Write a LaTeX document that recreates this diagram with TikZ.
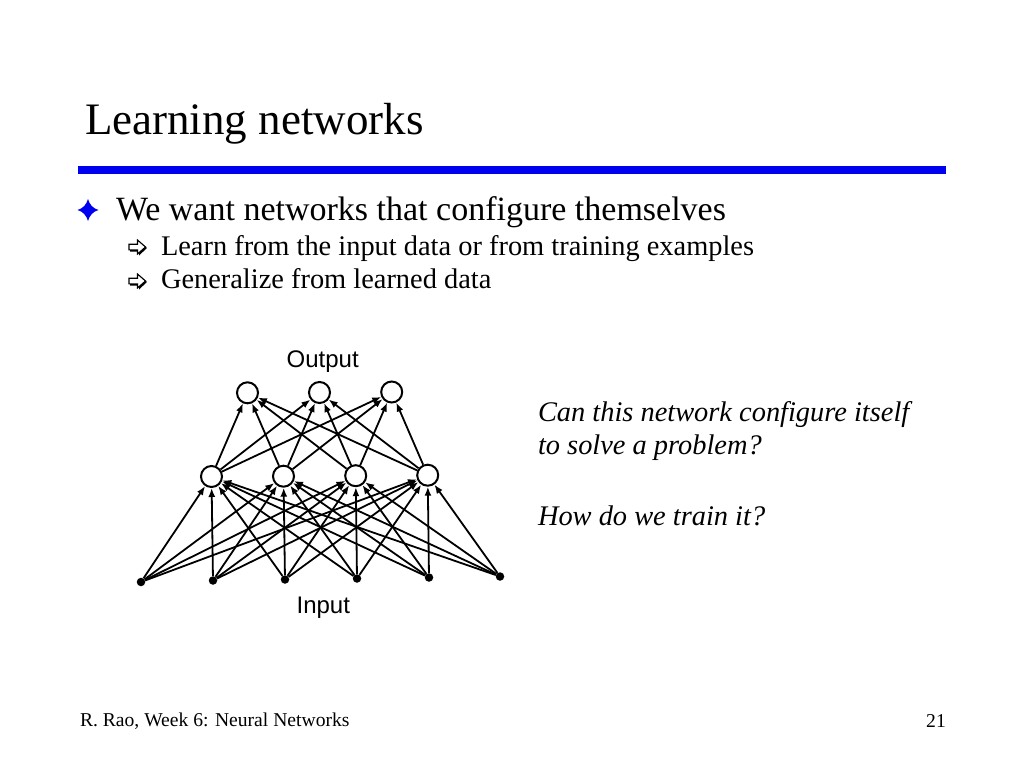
\documentclass[tikz,border=0pt]{standalone}
\usepackage{fontspec}
\setmainfont{Liberation Serif}
\newfontfamily\figsans{Liberation Sans}
\usetikzlibrary{arrows.meta}
\definecolor{slideblue}{RGB}{0,0,240}
\tikzset{
  txt/.style={anchor=base west, inner sep=0pt, outer sep=0pt},
  neuron/.style={circle, draw=black, line width=2pt, fill=white, minimum size=21pt, inner sep=0pt},
  inp/.style={circle, fill=black, minimum size=8.5pt, inner sep=0pt},
  conn/.style={line width=1.8pt, -{Latex[length=9pt,width=7pt]}},
  figlabel/.style={inner sep=0pt, font=\figsans\fontsize{24}{27}\selectfont}
}
\begin{document}
\begin{tikzpicture}[x=1pt,y=-1pt]
\useasboundingbox (0,0) rectangle (1024,768);
\fill[white] (0,0) rectangle (1024,768);
% title
\node[txt, font=\fontsize{45}{50}\selectfont] (title) at (85,134) {Learning networks};
\fill[slideblue] (78,166) rectangle (946,174);
% bullets
\fill[slideblue] (88,199) .. controls (89.5,204.5) and (93,208.5) .. (98.5,210) .. controls (93,211.5) and (89.5,215.5) .. (88,221)
  .. controls (86.5,215.5) and (83,211.5) .. (77.5,210) .. controls (83,208.5) and (86.5,204.5) .. (88,199) -- cycle;
\node[txt, font=\fontsize{34}{40}\selectfont] (b1) at (116,220) {We want networks that configure themselves};
\foreach \yy in {247,281}{
  \begin{scope}[shift={(137.5,\yy)}]
    \fill[black] (-7.5,-1.5) -- (1.5,-1.5) -- (1.5,-6) -- (9.5,1) -- (1.5,8.5) -- (1.5,4.5) -- (-7.5,4.5) -- cycle;
    \filldraw[fill=white, draw=black, line width=1.1pt] (-8.5,-2.8) -- (0,-2.8) -- (0,-7) -- (8,0) -- (0,7) -- (0,2.8) -- (-8.5,2.8) -- cycle;
  \end{scope}
}
\node[txt, font=\fontsize{28.4}{34}\selectfont] (s1) at (161,255.5) {Learn from the input data or from training examples};
\node[txt, font=\fontsize{28.4}{34}\selectfont] (s2) at (161,288.5) {Generalize from learned data};
% network
\node[neuron] (o1) at (247.5,392.8) {};
\node[neuron] (o2) at (319.5,392.5) {};
\node[neuron] (o3) at (391.7,392) {};
\node[neuron] (h1) at (211.5,476.5) {};
\node[neuron] (h2) at (283.5,476.2) {};
\node[neuron] (h3) at (355.7,475.7) {};
\node[neuron] (h4) at (427.7,475.2) {};
\node[inp] (i1) at (141,582) {};
\node[inp] (i2) at (213,580.5) {};
\node[inp] (i3) at (285,579.5) {};
\node[inp] (i4) at (357,578.5) {};
\node[inp] (i5) at (429,577.5) {};
\node[inp] (i6) at (500,576.5) {};
\foreach \i in {1,...,6}{
  \foreach \h in {1,...,4}{
    \draw[conn] (i\i) -- (h\h);
  }
}
\foreach \h in {1,...,4}{
  \foreach \o in {1,...,3}{
    \draw[conn] (h\h) -- (o\o);
  }
}
\node[figlabel] (outl) at (322.7,361.5) {Output};
\node[figlabel] (inl) at (323.3,608) {Input};
% questions
\node[txt, font=\itshape\fontsize{28.4}{34}\selectfont] (q1) at (538,421.7) {Can this network configure itself};
\node[txt, font=\itshape\fontsize{28.4}{34}\selectfont] (q2) at (538,454.5) {to solve a problem?};
\node[txt, font=\itshape\fontsize{28.4}{34}\selectfont] (q3) at (538,525) {How do we train it?};
% footer
\node[txt, font=\fontsize{19.6}{22}\selectfont] (foot) at (80,726) {R. Rao, Week 6: Neural Networks};
\node[anchor=base east, inner sep=0pt, font=\fontsize{19.6}{22}\selectfont] (pg) at (946,727) {21};
\end{tikzpicture}
\end{document}
